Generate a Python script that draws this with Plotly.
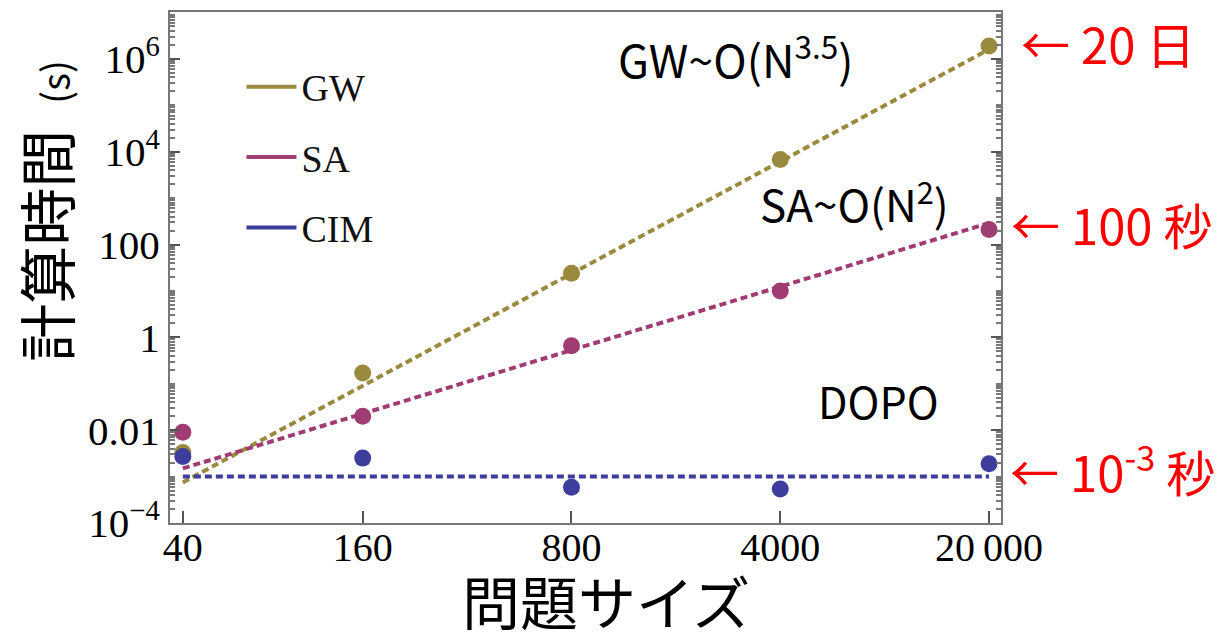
import plotly.graph_objects as go

# ---- data ----
sizes = [40, 160, 800, 4000, 20000]
gw_time = [0.0033, 0.17, 24, 6800, 1.9e6]
sa_time = [0.009, 0.02, 0.66, 10, 210]
cim_time = [0.0027, 0.0025, 5.9e-4, 5.4e-4, 0.0019]

fit_x = [40, 20000]
gw_fit = [7.5e-4, 1.6e6]
sa_fit = [0.0015, 290]
cim_fit = [0.001, 0.001]

x_tickvals = [40, 160, 800, 4000, 20000]
x_ticktext = ["40", "160", "800", "4000", "20\u2009000"]
y_tickvals = [1e-4, 1e-2, 1, 100, 1e4, 1e6]
y_ticktext = ["10<sup>\u22124</sup>", "0.01", "1", "100", "10<sup>4</sup>", "10<sup>6</sup>"]

series_names = ["GW", "SA", "CIM"]
colors = {"GW": "#9a8a3e", "SA": "#a03c72", "CIM": "#3d3d9e"}

serif = "Liberation Serif, Times New Roman, serif"
sans = "Noto Sans CJK JP, Noto Sans, sans-serif"

fig = go.Figure()

fits = {"GW": gw_fit, "SA": sa_fit, "CIM": cim_fit}
pts = {"GW": gw_time, "SA": sa_time, "CIM": cim_time}

for name in series_names:
    fig.add_trace(go.Scatter(x=fit_x, y=fits[name], mode="lines",
                             line=dict(color=colors[name], width=4, dash="7px,4px"),
                             showlegend=False, hoverinfo="skip"))
for name in series_names:
    fig.add_trace(go.Scatter(x=sizes, y=pts[name], mode="markers",
                             marker=dict(color=colors[name], size=17),
                             showlegend=False, name=name))
# legend entries (solid lines)
for name in series_names:
    fig.add_trace(go.Scatter(x=[None], y=[None], mode="lines", name=name,
                             legendgroup=name,
                             line=dict(color=colors[name], width=4)))

minor_y = [k * 10.0 ** e for e in range(-5, 8) for k in range(2, 10)] + [10.0 ** e for e in range(-5, 8)]

# page body has an 8px margin: figure is sized to fit inside the window
fig.update_layout(
    width=1211, height=622,
    paper_bgcolor="white", plot_bgcolor="white",
    margin=dict(l=162, r=218, t=2, b=107),
    showlegend=True,
    legend=dict(x=0.086, y=0.915, xanchor="left", yanchor="top",
                font=dict(family=serif, size=38, color="#111"),
                bgcolor="rgba(0,0,0,0)", tracegroupgap=18, itemwidth=50),
    xaxis=dict(type="log", range=[1.559, 4.341],
               tickvals=x_tickvals, ticktext=x_ticktext,
               ticks="inside", ticklen=12, tickwidth=1.5, tickcolor="#555",
               tickfont=dict(family=serif, size=40, color="black"),
               ticklabelstandoff=-12,
               showline=True, linecolor="#777", linewidth=2, mirror=True,
               showgrid=False, zeroline=False),
    yaxis=dict(type="log", range=[-4, 7.01],
               tickvals=y_tickvals, ticktext=y_ticktext,
               ticks="inside", ticklen=10, tickwidth=1.5, tickcolor="#555",
               tickfont=dict(family=serif, size=41, color="black"),
               minor=dict(tickvals=minor_y, ticks="inside", ticklen=5, tickcolor="#777"),
               showline=True, linecolor="#777", linewidth=2, mirror="ticks",
               showgrid=False, zeroline=False),
)

ann = [
    dict(text="GW~O(N<sup>3.5</sup>)", x=0.681, y=0.912, xanchor="center", yanchor="middle",
         font=dict(family=sans, size=45, color="black")),
    dict(text="SA~O(N<sup>2</sup>)", x=0.824, y=0.63, xanchor="center", yanchor="middle",
         font=dict(family=sans, size=44, color="black")),
    dict(text="DOPO", x=0.852, y=0.24, xanchor="center", yanchor="middle",
         font=dict(family=sans, size=43, color="black")),
    dict(text="\u2190 20 日", x=1.022, y=0.94, xanchor="left", yanchor="middle",
         font=dict(family=sans, size=49, color="#ff0000")),
    dict(text="\u2190 100 秒", x=1.01, y=0.587, xanchor="left", yanchor="middle",
         font=dict(family=sans, size=49, color="#ff0000")),
    dict(text="\u2190 10<sup>-3</sup> 秒", x=1.008, y=0.107, xanchor="left", yanchor="middle",
         font=dict(family=sans, size=49, color="#ff0000")),
    dict(text="問題サイズ", x=0.525, y=-0.15, xanchor="center", yanchor="middle",
         font=dict(family=sans, size=58, color="black")),
    dict(text="計算時間&nbsp;&nbsp;<span style='font-size:38px'>(s)</span>", x=-0.15, y=0.61,
         xanchor="center", yanchor="middle", textangle=-90,
         font=dict(family=sans, size=58, color="black")),
]
for a in ann:
    a.update(xref="paper", yref="paper", showarrow=False)
fig.update_layout(annotations=ann)

fig.write_html("out.html")
